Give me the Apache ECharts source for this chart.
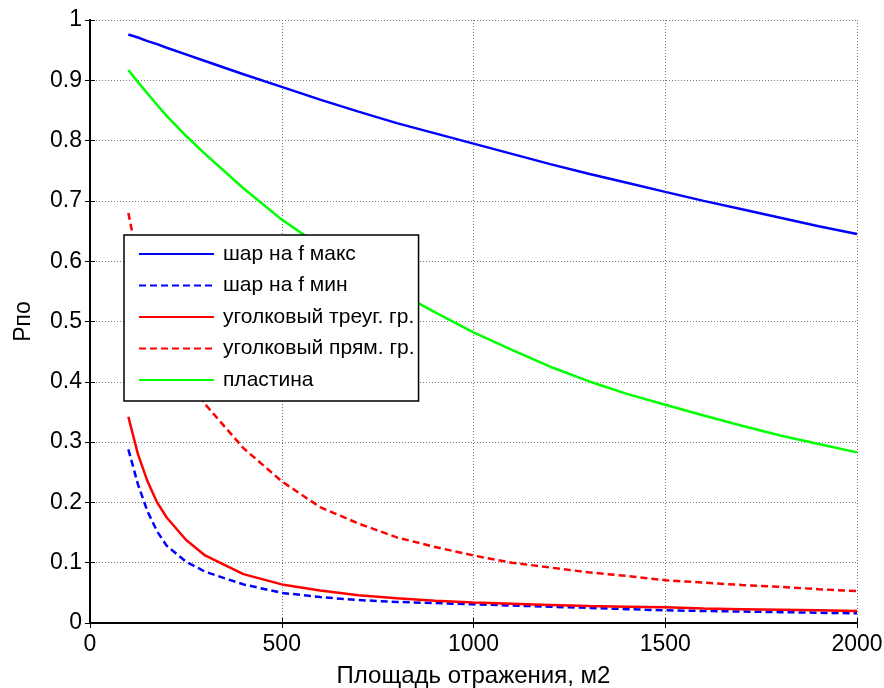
<!DOCTYPE html>
<html>
<head>
<meta charset="utf-8">
<title>Рпо</title>
<script src="https://cdn.jsdelivr.net/npm/echarts@6/dist/echarts.min.js"></script>
<style>
  html, body { margin: 0; padding: 0; background: #fff; }
  #chart { width: 884px; height: 688px; }
</style>
</head>
<body>
<div id="chart"></div>
<script type="text/javascript">
// площадь отражения, м2
var area = [100, 125, 150, 175, 200, 250, 300, 400, 500, 600, 700, 800, 900, 1000,
            1100, 1200, 1300, 1400, 1500, 1600, 1700, 1800, 1900, 2000];

var sharMax = [0.976, 0.971, 0.965, 0.960, 0.954, 0.943, 0.932, 0.910, 0.889, 0.868, 0.848, 0.829, 0.812, 0.795,
               0.778, 0.761, 0.745, 0.730, 0.715, 0.700, 0.686, 0.672, 0.658, 0.645];
var sharMin = [0.288, 0.230, 0.185, 0.152, 0.128, 0.102, 0.085, 0.064, 0.050, 0.043, 0.038, 0.035, 0.033, 0.031,
               0.029, 0.027, 0.025, 0.023, 0.021, 0.020, 0.019, 0.018, 0.017, 0.016];
var uglTreug = [0.342, 0.280, 0.235, 0.200, 0.175, 0.138, 0.112, 0.081, 0.064, 0.054, 0.046, 0.041, 0.037, 0.034,
                0.032, 0.030, 0.028, 0.027, 0.026, 0.024, 0.023, 0.022, 0.021, 0.020];
var uglPryam = [0.680, 0.600, 0.550, 0.510, 0.470, 0.410, 0.363, 0.290, 0.235, 0.192, 0.165, 0.142, 0.126, 0.112,
                0.100, 0.092, 0.084, 0.078, 0.071, 0.067, 0.063, 0.060, 0.056, 0.053];
var plastina = [0.917, 0.897, 0.878, 0.859, 0.841, 0.808, 0.778, 0.721, 0.669, 0.625, 0.586, 0.550, 0.515, 0.482,
                0.453, 0.425, 0.401, 0.380, 0.362, 0.344, 0.327, 0.311, 0.297, 0.283];

var names = ['шар на f макс', 'шар на f мин', 'уголковый треуг. гр.', 'уголковый прям. гр.', 'пластина'];

function pairs(ys) {
    return area.map(function (x, i) { return [x, ys[i]]; });
}

var font = 'Liberation Sans, Arial, sans-serif';
var dash = [7, 4];

var myChart = echarts.init(document.getElementById('chart'));

var boxAxis = {
    axisLine: { show: true, lineStyle: { color: '#000', width: 2 } },
    axisTick: { show: true, inside: true, length: 5, lineStyle: { color: '#000' } },
    axisLabel: { show: false },
    splitLine: { show: false }
};

option = {
    backgroundColor: '#fff',
    animation: false,
    grid: { left: 90, right: 27, top: 20, bottom: 65, outerBoundsMode: 'none', containLabel: false },
    legend: {
        orient: 'vertical',
        left: 124,
        top: 235,
        z: 10,
        backgroundColor: '#fff',
        borderColor: '#000',
        borderWidth: 1.5,
        borderRadius: 0,
        padding: [7, 4, 9, 14],
        itemWidth: 75,
        itemHeight: 14,
        itemGap: 7.5,
        itemStyle: { opacity: 0 },
        textStyle: { fontFamily: font, fontSize: 21, color: '#000', lineHeight: 24, padding: [0, 0, 0, 4] },
        data: names
    },
    xAxis: [
        {
            type: 'value', min: 0, max: 2000, interval: 500,
            name: 'Площадь отражения, м2',
            nameLocation: 'middle',
            nameGap: 41,
            nameTextStyle: { fontFamily: font, fontSize: 24, color: '#000' },
            axisLine: { show: true, lineStyle: { color: '#000', width: 2 } },
            axisTick: { show: true, inside: true, length: 5, lineStyle: { color: '#000' } },
            axisLabel: { fontFamily: font, fontSize: 23, color: '#000', margin: 10,
                         formatter: function (v) { return String(v); } },
            splitLine: { show: true, lineStyle: { color: '#777', width: 1, type: [1, 2] } }
        },
        echarts.util.extend({ type: 'value', position: 'top', min: 0, max: 2000, interval: 500 }, boxAxis)
    ],
    yAxis: [
        {
            type: 'value', min: 0, max: 1, interval: 0.1,
            name: 'Рпо',
            nameLocation: 'middle',
            nameGap: 55,
            nameTextStyle: { fontFamily: font, fontSize: 23, color: '#000' },
            axisLine: { show: true, lineStyle: { color: '#000', width: 2 } },
            axisTick: { show: true, inside: true, length: 5, lineStyle: { color: '#000' } },
            axisLabel: { fontFamily: font, fontSize: 23, color: '#000', margin: 8,
                         formatter: function (v) { return String(v); } },
            splitLine: { show: true, lineStyle: { color: '#777', width: 1, type: [1, 2] } }
        },
        echarts.util.extend({ type: 'value', position: 'right', min: 0, max: 1, interval: 0.1 }, boxAxis)
    ],
    series: [
        { name: names[0], type: 'line', showSymbol: false, symbol: 'none', data: pairs(sharMax),
          lineStyle: { color: '#0000ff', width: 2.5 }, itemStyle: { color: '#0000ff' } },
        { name: names[1], type: 'line', showSymbol: false, symbol: 'none', data: pairs(sharMin),
          lineStyle: { color: '#0000ff', width: 2.5, type: dash }, itemStyle: { color: '#0000ff' } },
        { name: names[2], type: 'line', showSymbol: false, symbol: 'none', data: pairs(uglTreug),
          lineStyle: { color: '#ff0000', width: 2.5 }, itemStyle: { color: '#ff0000' } },
        { name: names[3], type: 'line', showSymbol: false, symbol: 'none', data: pairs(uglPryam),
          lineStyle: { color: '#ff0000', width: 2.5, type: dash }, itemStyle: { color: '#ff0000' } },
        { name: names[4], type: 'line', showSymbol: false, symbol: 'none', data: pairs(plastina),
          lineStyle: { color: '#00ff00', width: 2.5 }, itemStyle: { color: '#00ff00' } }
    ]
};

myChart.setOption(option);
</script>
</body>
</html>
